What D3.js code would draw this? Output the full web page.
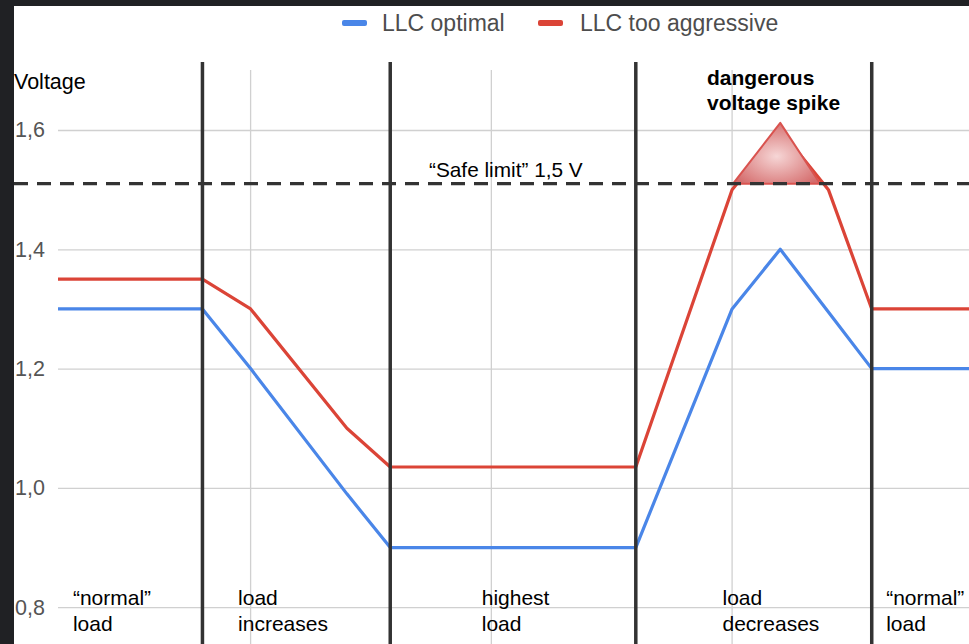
<!DOCTYPE html>
<html>
<head>
<meta charset="utf-8">
<script src="https://cdn.jsdelivr.net/npm/d3@7"></script>
<style>
  html, body { margin: 0; padding: 0; background: #202124; }
  svg { display: block; }
  text { font-family: "Liberation Sans", Arial, sans-serif; }
</style>
</head>
<body>
<svg id="chart" width="969" height="644"></svg>
<script>
// ---- data ----
const seriesNames = ["LLC optimal", "LLC too aggressive"];
const xValues = [0, 3, 4, 6, 6.9, 12, 14, 15, 16, 16.9, 19];
const optimal = [1.3, 1.3, 1.2, 0.99, 0.9, 0.9, 1.3, 1.4, 1.295, 1.2, 1.2];
const aggressive = [1.35, 1.35, 1.3, 1.1, 1.035, 1.035, 1.5, 1.6, 1.5, 1.3, 1.3];
const yTicks = [0.8, 1.0, 1.2, 1.4, 1.6];
const xGridValues = [4, 9, 14];
const phaseBoundaries = [3, 6.9, 12, 16.9];
const phaseLabels = [["\u201cnormal\u201d", "load"], ["load", "increases"], ["highest", "load"], ["load", "decreases"], ["\u201cnormal\u201d", "load"]];
const phaseLabelAnchors = [0.31, 3.74, 8.8, 13.8, 17.2];
const safeLimit = 1.51;
const safeLimitLabel = "\u201cSafe limit\u201d 1,5 V";
const spikeLabel = ["dangerous", "voltage spike"];
const spikeTriangle = [[14.02, 1.51], [15.0, 1.612], [15.83, 1.51]];
const yTitle = "Voltage";

// ---- layout ----
const W = 969, H = 644;
const frameLeft = 14, frameTop = 6;
const plotLeft = 58, plotTop = 70;
const colors = ["#4a86e8", "#db4437"];

const svg = d3.select("#chart");

svg.append("rect").attr("x", frameLeft).attr("y", frameTop)
  .attr("width", W - frameLeft).attr("height", H - frameTop).attr("fill", "#ffffff");

const x = d3.scaleLinear().domain([0, 19]).range([plotLeft, plotLeft + 19 * 48.15]);
const y = d3.scaleLinear().domain([0.7, 1.7]).range([666.85, 70.35]);

const defs = svg.append("defs");
defs.append("clipPath").attr("id", "plotClip")
  .append("rect").attr("x", plotLeft - 2).attr("y", plotTop - 60)
  .attr("width", W - plotLeft + 2).attr("height", H);

const grad = defs.append("radialGradient").attr("id", "spikeGrad")
  .attr("cx", "50%").attr("cy", "55%").attr("r", "60%");
grad.append("stop").attr("offset", "0%").attr("stop-color", "#f6d6d6");
grad.append("stop").attr("offset", "100%").attr("stop-color", "#d46a6a");

// horizontal gridlines + tick labels
const yAxis = d3.axisLeft(y)
  .tickValues(yTicks)
  .tickSize(-(W - plotLeft))
  .tickPadding(13)
  .tickFormat(d => d3.format(".1f")(d).replace(".", ","));
const gy = svg.append("g").attr("transform", `translate(${plotLeft},0)`).call(yAxis);
gy.select(".domain").remove();
gy.selectAll(".tick line").attr("stroke", "#d0d0d0").attr("stroke-width", 1.3);
gy.selectAll(".tick text").attr("fill", "#555").attr("font-size", 21.5)
  .attr("font-family", "'Liberation Sans', Arial, sans-serif");

// vertical gridlines
svg.append("g").selectAll("line").data(xGridValues).join("line")
  .attr("x1", d => x(d)).attr("x2", d => x(d))
  .attr("y1", plotTop).attr("y2", H)
  .attr("stroke", "#d0d0d0").attr("stroke-width", 1.3);

// series lines
const plot = svg.append("g").attr("clip-path", "url(#plotClip)");
const line = d3.line().x(d => x(d[0])).y(d => y(d[1]));
[optimal, aggressive].forEach((vals, i) => {
  plot.append("path")
    .datum(xValues.map((xv, j) => [xv, vals[j]]))
    .attr("fill", "none")
    .attr("stroke", colors[i])
    .attr("stroke-width", 3.2)
    .attr("stroke-linejoin", "round")
    .attr("d", line);
});

// spike triangle
svg.append("path")
  .attr("d", d3.line().x(d => x(d[0])).y(d => y(d[1]))(spikeTriangle) + "Z")
  .attr("fill", "url(#spikeGrad)")
  .attr("stroke", "#d9534f").attr("stroke-width", 2).attr("stroke-linejoin", "round");

// safe limit dashed line
svg.append("line")
  .attr("x1", frameLeft).attr("x2", W)
  .attr("y1", y(safeLimit)).attr("y2", y(safeLimit))
  .attr("stroke", "#333").attr("stroke-width", 3.2)
  .attr("stroke-dasharray", "14,9");

// phase boundaries
svg.append("g").selectAll("line").data(phaseBoundaries).join("line")
  .attr("x1", d => x(d)).attr("x2", d => x(d))
  .attr("y1", 62).attr("y2", H)
  .attr("stroke", "#333").attr("stroke-width", 3.5);

// legend
const legendItems = [{x: 342, tx: 382}, {x: 538, tx: 580}];
seriesNames.forEach((name, i) => {
  svg.append("rect").attr("x", legendItems[i].x).attr("y", 20)
    .attr("width", 25).attr("height", 6).attr("rx", 2).attr("fill", colors[i]);
  svg.append("text").attr("x", legendItems[i].tx).attr("y", 31)
    .attr("font-size", 23).attr("fill", "#4d4d4d").text(name);
});

// y title
svg.append("text").attr("x", 14).attr("y", 89).attr("font-size", 21.5)
  .attr("fill", "#000").text(yTitle);

// safe limit label
svg.append("text").attr("x", 429).attr("y", 177).attr("font-size", 20.8)
  .attr("fill", "#000").text(safeLimitLabel);

// spike label
spikeLabel.forEach((t, i) => {
  svg.append("text").attr("x", 707).attr("y", 85 + i * 25)
    .attr("font-size", 21).attr("font-weight", "bold").attr("fill", "#000").text(t);
});

// phase labels
phaseLabels.forEach((lines, i) => {
  lines.forEach((t, k) => {
    svg.append("text").attr("x", x(phaseLabelAnchors[i])).attr("y", 605 + k * 26)
      .attr("font-size", 21).attr("fill", "#000").text(t);
  });
});
</script>
</body>
</html>
